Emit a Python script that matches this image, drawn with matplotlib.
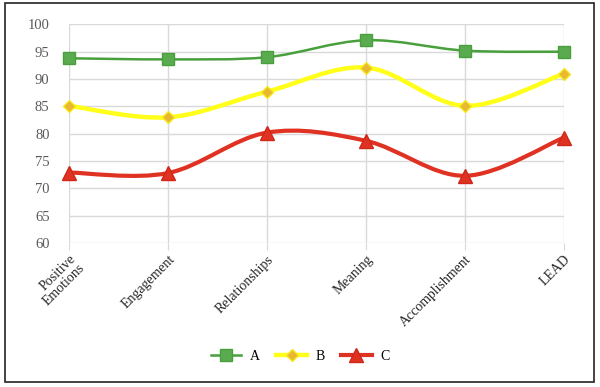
import numpy as np
import matplotlib
matplotlib.use("Agg")
import matplotlib.pyplot as plt
from matplotlib.path import Path
from matplotlib.patches import PathPatch, Rectangle
from matplotlib.lines import Line2D

categories = ["Positive\nEmotions", "Engagement", "Relationships", "Meaning",
              "Accomplishment", "LEAD"]
series_a = [93.8, 93.6, 94.0, 97.1, 95.2, 95.0]
series_b = [85.1, 83.0, 87.7, 92.1, 85.1, 91.0]
series_c = [72.9, 72.8, 80.2, 78.7, 72.3, 79.3]

plt.rcParams['font.family'] = ['Liberation Serif', 'DejaVu Serif']


def smooth_path(x, y):
    # Excel-like smoothed line: cubic Bezier segments with Catmull-Rom control points
    x = np.asarray(x, float)
    y = np.asarray(y, float)
    n = len(x)
    verts = [(x[0], y[0])]
    codes = [Path.MOVETO]
    for i in range(n - 1):
        p0 = i - 1 if i > 0 else i
        p3 = i + 2 if i + 2 < n else i + 1
        c1 = (x[i] + (x[i + 1] - x[p0]) / 6, y[i] + (y[i + 1] - y[p0]) / 6)
        c2 = (x[i + 1] - (x[p3] - x[i]) / 6, y[i + 1] - (y[p3] - y[i]) / 6)
        verts += [c1, c2, (x[i + 1], y[i + 1])]
        codes += [Path.CURVE4] * 3
    return Path(verts, codes)


fig = plt.figure(figsize=(6, 3.87), dpi=100)
ax = fig.add_axes([0.115, 0.372, 0.825, 0.565])

xs = np.arange(len(categories))
styles = [
    ("A", series_a, "#48a03c", 1.8, "s", 9, "#5aab4f", "#48a03c"),
    ("B", series_b, "#ffff1a", 3.2, "D", 6.5, "#e8b830", "#f7e81a"),
    ("C", series_c, "#e03222", 3.0, "^", 9.5, "#e03222", "#d02818"),
]
handles = []
for name, vals, col, lw, mk, ms, mfc, mec in styles:
    ax.add_patch(PathPatch(smooth_path(xs, vals), facecolor="none",
                           edgecolor=col, lw=lw, zorder=3, capstyle="round"))
    ax.plot(xs, vals, linestyle="none", marker=mk, markersize=ms,
            markerfacecolor=mfc, markeredgecolor=mec, markeredgewidth=1,
            zorder=4, clip_on=False)
    handles.append(Line2D([], [], color=col, lw=lw, marker=mk, markersize=ms,
                          markerfacecolor=mfc, markeredgecolor=mec,
                          label=name))

ax.set_xlim(0, len(categories) - 1)
ax.set_ylim(60, 100)
ax.set_yticks(np.arange(60, 101, 5))
ax.set_xticks(xs)
ax.set_xticklabels(categories, rotation=45, ha="right", va="top",
                   rotation_mode="anchor", fontsize=10, color="#262626",
                   linespacing=0.95)
ax.grid(True, color="#d9d9d9", lw=1)
ax.set_axisbelow(True)
for s in ax.spines.values():
    s.set_visible(False)
ax.tick_params(axis="x", length=5, color="#d9d9d9", pad=2)
ax.tick_params(axis="y", length=0, labelsize=10.5, labelcolor="#595959", pad=14)

fig.legend(handles=handles, loc="center", bbox_to_anchor=(0.5, 0.08),
           ncol=3, frameon=False, fontsize=10, handlelength=2.2,
           columnspacing=1.2, handletextpad=0.6)

fig.add_artist(Rectangle((5 / 600, 5 / 387), 589 / 600, 379 / 387,
                         transform=fig.transFigure, fill=False,
                         edgecolor="#222222", lw=1.2))

fig.savefig("out.png", dpi=100)
